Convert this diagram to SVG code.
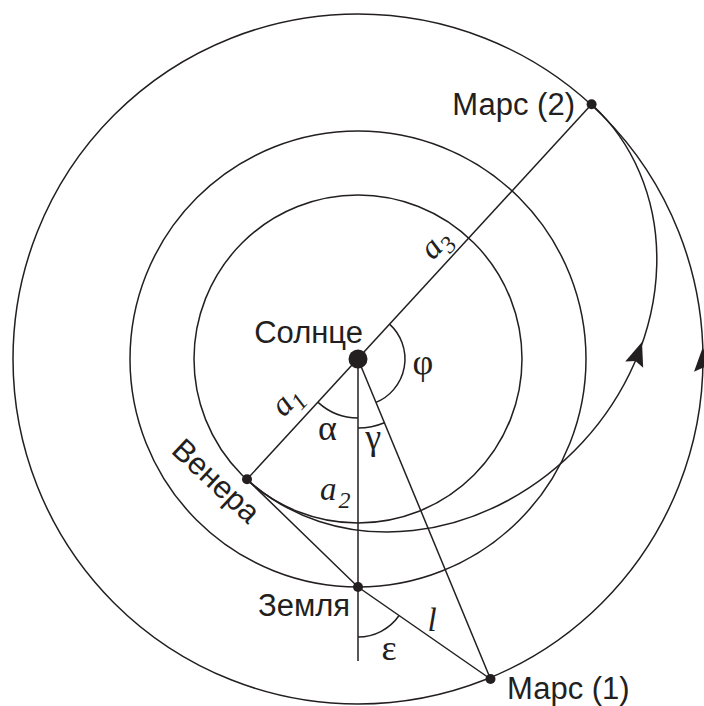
<svg xmlns="http://www.w3.org/2000/svg" width="704" height="706" viewBox="0 0 704 706">
<defs>
<style>
.ln{fill:none;stroke:#231f20;stroke-width:1.5}
.dot{fill:#231f20}
.lbl{font-family:"Liberation Sans",Arial,sans-serif;font-size:31px;fill:#231f20}
.it{font-family:"Liberation Serif","Times New Roman",serif;font-style:italic;font-size:33px;fill:#231f20}
.sub{font-size:24px}
.gr{font-family:"Liberation Serif","Times New Roman",serif;font-size:36px;fill:#231f20}
</style>
<path id="ah" d="M0,0 L-24,-9.5 L-20,0 L-24,9.5 Z" fill="#231f20"/>
</defs>
<rect width="704" height="706" fill="#fff"/>
<g id="orbits" class="ln">
<circle cx="358" cy="359" r="164"/>
<circle cx="358" cy="359" r="228"/>
<circle cx="358" cy="359" r="345"/>
</g>
<g id="connectors" class="ln">
<path d="M247,479.3 L591.6,104.3"/>
<path d="M358,359 L358,661"/>
<path d="M358,359 L490.5,679"/>
<path d="M247,479.3 L358,587 L490.5,679"/>
<path d="M247,479.3 A254.65,222 -47.42 0 0 582.8,442 A254.65,222 -47.42 0 0 591.6,104.3"/>
</g>
<g id="arrows">
<use href="#ah" transform="translate(642,342) rotate(-71)"/>
<use href="#ah" transform="translate(702.7,347.5) rotate(-91.9)"/>
</g>
<g id="angles" class="ln">
<path d="M318.1,402.4 A59,59 0 0 0 358,418"/>
<path d="M358,428 A69,69 0 0 0 384.4,422.7"/>
<path d="M389.8,324.4 A47,47 0 0 1 376,402.4"/>
<path d="M358,637 A50,50 0 0 0 399.1,615.5"/>
</g>
<g id="sun"><circle class="dot" cx="358" cy="359" r="9.5"/><text class="lbl" x="363" y="343" text-anchor="end">Солнце</text></g>
<g id="venus"><circle class="dot" cx="247" cy="479.3" r="5"/><text class="lbl" transform="translate(170,452) rotate(43)">Венера</text></g>
<g id="earth"><circle class="dot" cx="358" cy="587" r="5"/><text class="lbl" x="258" y="616">Земля</text></g>
<g id="mars1"><circle class="dot" cx="490.5" cy="679" r="5"/><text class="lbl" x="507" y="699">Марс (1)</text></g>
<g id="mars2"><circle class="dot" cx="591.6" cy="104.3" r="5"/><text class="lbl" x="575" y="115" text-anchor="end">Марс (2)</text></g>
<g id="labels">
<text class="it" transform="translate(284,418) rotate(-47.4)">a<tspan class="sub" dy="8">1</tspan></text>
<text class="it" x="320" y="500">a<tspan class="sub" dx="2" dy="8">2</tspan></text>
<text class="it" transform="translate(433,261) rotate(-47.4)">a<tspan class="sub" dy="8">3</tspan></text>
<text class="it" x="432" y="631" text-anchor="middle">l</text>
<text class="gr" x="327.5" y="440" text-anchor="middle">α</text>
<text class="gr" x="373.3" y="449" text-anchor="middle">γ</text>
<text class="gr" x="423" y="374" text-anchor="middle">φ</text>
<text class="gr" x="389" y="660" text-anchor="middle">ε</text>
</g>
</svg>
